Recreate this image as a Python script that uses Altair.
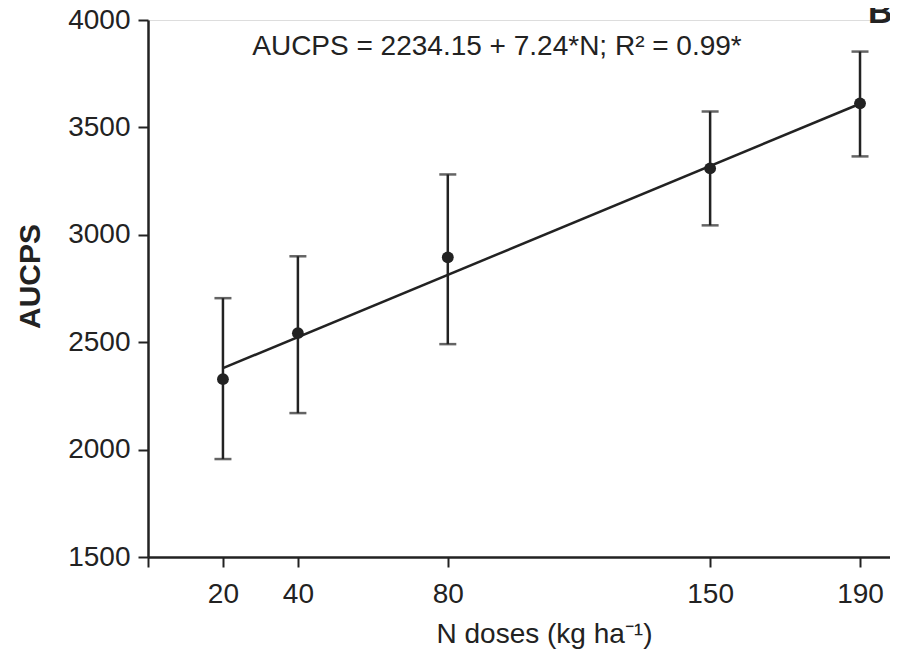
import altair as alt
import pandas as pd

# Data
n_doses = [20, 40, 80, 150, 190]
aucps_mean = [2328, 2542, 2895, 3309, 3612]
aucps_upper = [2705, 2900, 3281, 3574, 3853]
aucps_lower = [1956, 2170, 2491, 3044, 3365]

fit_x = [20, 190]
fit_y = [2379, 3610]

x_ticks = [0, 20, 40, 80, 150, 190]
y_ticks = [1500, 2000, 2500, 3000, 3500, 4000]

equation_text = "AUCPS = 2234.15 + 7.24*N; R² = 0.99*"
panel_label = "B"

df = pd.DataFrame({"N": n_doses, "AUCPS": aucps_mean, "hi": aucps_upper, "lo": aucps_lower})
fit = pd.DataFrame({"N": fit_x, "AUCPS": fit_y})

FONT = "Liberation Sans"
INK = "#222222"

xscale = alt.Scale(domain=[0, 198], nice=False, zero=False)
yscale = alt.Scale(domain=[1500, 4000], nice=False, zero=False)

xaxis = alt.Axis(
    values=x_ticks, format="d", labelExpr="datum.value == 0 ? '' : datum.label",
    title="N doses (kg ha⁻¹)", grid=False,
    domainColor=INK, domainWidth=2.5, tickColor=INK, tickWidth=2, tickSize=10,
    labelFont=FONT, labelFontSize=28, labelColor=INK, labelPadding=13,
    titleFont=FONT, titleFontSize=28, titleFontWeight="normal", titleColor=INK,
    titleX=396, titleY=85, titleBaseline="alphabetic", titleAnchor="middle",
)
yaxis = alt.Axis(
    values=y_ticks, format="d", title="AUCPS", grid=False,
    domainColor=INK, domainWidth=2.5, tickColor=INK, tickWidth=2, tickSize=10,
    labelFont=FONT, labelFontSize=28, labelColor=INK, labelPadding=8,
    titleFont=FONT, titleFontSize=30, titleFontWeight="bold", titleColor=INK,
    titleX=-118, titleY=256, titleAngle=270, titleAlign="center", titleBaseline="middle",
)

base = alt.Chart(df)

bars = base.mark_rule(color=INK, strokeWidth=2.5).encode(
    x=alt.X("N:Q", scale=xscale, axis=xaxis),
    y=alt.Y("lo:Q", scale=yscale, axis=yaxis),
    y2="hi:Q",
)
cap_hi = base.mark_tick(color=INK, size=17, thickness=2.5, orient="horizontal").encode(
    x=alt.X("N:Q", scale=xscale), y=alt.Y("hi:Q", scale=yscale)
)
cap_lo = base.mark_tick(color=INK, size=17, thickness=2.5, orient="horizontal").encode(
    x=alt.X("N:Q", scale=xscale), y=alt.Y("lo:Q", scale=yscale)
)
line = alt.Chart(fit).mark_line(color=INK, strokeWidth=2.5).encode(
    x=alt.X("N:Q", scale=xscale), y=alt.Y("AUCPS:Q", scale=yscale)
)
points = base.mark_point(filled=True, color=INK, size=140, opacity=1).encode(
    x=alt.X("N:Q", scale=xscale), y=alt.Y("AUCPS:Q", scale=yscale)
)

eq = alt.Chart(pd.DataFrame({"t": [equation_text]})).mark_text(
    font=FONT, fontSize=28, color=INK, align="center", baseline="alphabetic"
).encode(text="t:N", x=alt.value(349), y=alt.value(35))

blabel = alt.Chart(pd.DataFrame({"t": [panel_label]})).mark_text(
    font=FONT, fontSize=34, fontWeight="bold", color=INK, align="left", baseline="alphabetic"
).encode(text="t:N", x=alt.value(720), y=alt.value(3))

chart = alt.layer(bars, cap_hi, cap_lo, line, points, eq, blabel).properties(
    width=742, height=537,
    autosize=alt.AutoSizeParams(type="none"),
    padding={"left": 140, "top": 12, "right": 0, "bottom": 94},
).configure_view(stroke=None).configure(background="white")

chart.save("out.html", embed_options={"renderer": "svg", "actions": False})
